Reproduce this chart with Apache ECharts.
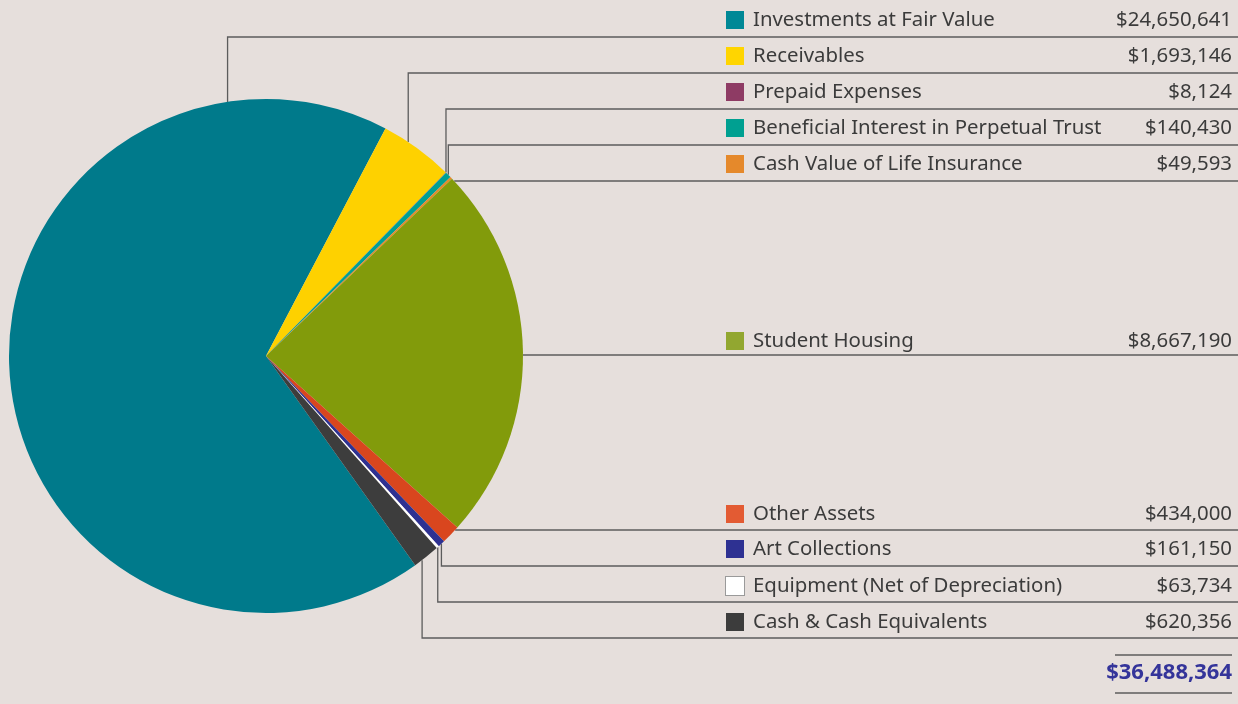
<!DOCTYPE html>
<html>
<head>
<meta charset="utf-8">
<style>
  html, body { margin: 0; padding: 0; background: #e6dfdc; }
  #chart { width: 1238px; height: 704px; }
</style>
<script src="https://cdn.jsdelivr.net/npm/echarts@6/dist/echarts.min.js"></script>
</head>
<body>
<div id="chart"></div>
<script>
// asset breakdown
var names = [
  'Investments at Fair Value',
  'Receivables',
  'Prepaid Expenses',
  'Beneficial Interest in Perpetual Trust',
  'Cash Value of Life Insurance',
  'Student Housing',
  'Other Assets',
  'Art Collections',
  'Equipment (Net of Depreciation)',
  'Cash & Cash Equivalents'
];
var values = [24650641, 1693146, 8124, 140430, 49593, 8667190, 434000, 161150, 63734, 620356];

// styling
var sliceColors = ['#007a8b', '#fed100', '#8b3a62', '#00a093', '#e58a2a', '#829b0b', '#d9461e', '#2e3192', '#ffffff', '#3d3d3d'];
var markerColors = ['#008896', '#ffd500', '#8e3b64', '#00a091', '#e5892b', '#92a730', '#e35b33', '#2e3192', '#ffffff', '#3c3c3c'];

// layout: rule y and text y for each row, leader start angle (clock degrees) where it differs from slice middle
var rowLineY = [37, 73, 109, 145, 181, 355, 530, 566, 602, 638];
var rowTextY = [20, 56, 92, 128, 164, 341, 514, 549, 586, 622];
var leaderClock = [-8.6, 33.6, null, null, null, null, null, null, null, 142.6];

var CX = 266, CY = 356, R = 257;
var START_CLOCK = 144.5;   // clockwise from 12 o'clock
var LABEL_X = 726, LABEL_W = 506;
var FONT = '"Noto Sans", Lato, sans-serif';
var FS = 20.4;
var INK = '#3b3b3b';
var RULE = '#5c5c5c';

function money(v) { return '$' + v.toLocaleString('en-US'); }

var total = values.reduce(function (a, b) { return a + b; }, 0);
var midFrac = [];
(function () {
  var s = 0;
  values.forEach(function (v) { midFrac.push((s + v / 2) / total); s += v; });
})();

var chart = echarts.init(document.getElementById('chart'));
var W = chart.getWidth();

var rich = {
  n: { fontFamily: FONT, fontSize: FS, color: INK, padding: [0, 0, 0, 9], lineHeight: 24, verticalAlign: 'middle' },
  v: { fontFamily: FONT, fontSize: FS, color: INK, align: 'right', lineHeight: 24, verticalAlign: 'middle' }
};
markerColors.forEach(function (c, i) {
  rich['m' + i] = {
    width: 18, height: 18, backgroundColor: c,
    borderColor: c === '#ffffff' ? '#9a9a9a' : c,
    borderWidth: c === '#ffffff' ? 1 : 0,
    verticalAlign: 'middle'
  };
});

chart.setOption({
  backgroundColor: '#e6dfdc',
  animation: false,
  title: {
    text: money(total),
    right: 6,
    top: 661,
    padding: 0,
    textStyle: { fontFamily: FONT, fontSize: 22, fontWeight: 'bold', color: '#34349a', lineHeight: 24 }
  },
  graphic: [
    { type: 'line', shape: { x1: 1115, y1: 655, x2: 1232, y2: 655 }, style: { stroke: RULE, lineWidth: 1.3 } },
    { type: 'line', shape: { x1: 1115, y1: 693, x2: 1232, y2: 693 }, style: { stroke: RULE, lineWidth: 1.3 } }
  ],
  series: [{
    type: 'pie',
    center: [CX, CY],
    radius: R,
    startAngle: 90 - START_CLOCK,
    clockwise: true,
    avoidLabelOverlap: false,
    silent: true,
    emphasis: { disabled: true },
    itemStyle: { borderWidth: 0 },
    data: names.map(function (n, i) {
      return { name: n, value: values[i], itemStyle: { color: sliceColors[i] } };
    }),
    label: {
      show: true,
      width: LABEL_W,
      formatter: function (p) {
        return '{m' + p.dataIndex + '|}{n|' + p.name + '}{v|' + money(p.value) + '}';
      },
      rich: rich
    },
    labelLine: { show: true, lineStyle: { color: RULE, width: 1.3 } },
    labelLayout: function (p) {
      var i = p.dataIndex;
      var ly = rowLineY[i];
      var clock = leaderClock[i] != null ? leaderClock[i] : START_CLOCK + 360 * midFrac[i];
      var a = clock * Math.PI / 180;
      var ax = CX + R * Math.sin(a), ay = CY - R * Math.cos(a);
      var pts;
      if (Math.abs(ay - ly) < 12) {
        // rule starts straight off the pie edge
        var ex = CX + Math.sqrt(R * R - (ly - CY) * (ly - CY));
        pts = [[ex, ly], [ex + 1, ly], [W, ly]];
      } else {
        pts = [[ax, ay], [ax, ly], [W, ly]];
      }
      return {
        x: LABEL_X,
        y: rowTextY[i],
        align: 'left',
        verticalAlign: 'middle',
        labelLinePoints: pts
      };
    }
  }]
});
</script>
</body>
</html>
